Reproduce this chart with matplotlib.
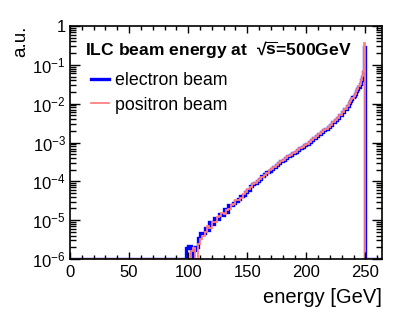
import numpy as np
import matplotlib
matplotlib.use("Agg")
import matplotlib.pyplot as plt
from matplotlib.ticker import FuncFormatter, MultipleLocator, LogLocator, NullFormatter

plt.rcParams['font.family'] = ['Liberation Sans', 'DejaVu Sans']
plt.rcParams['mathtext.fontset'] = 'custom'
plt.rcParams['mathtext.rm'] = 'Liberation Sans'
plt.rcParams['mathtext.it'] = 'Liberation Sans:italic'
plt.rcParams['mathtext.bf'] = 'Liberation Sans:bold'

# histogram binning (GeV): 2 GeV bins below 236 GeV, 1 GeV bins near the peak
coarse_edges = np.arange(0, 236, 2)
fine_edges = np.arange(236, 265, 1)
x_max = 264
first_filled_edge = 98

# bin contents starting at 98 GeV, 0 = empty bin
electron_beam = [
    1.9e-6, 2.1e-6, 0, 1.7e-6, 2.0e-6, 3.5e-6, 4.7e-6, 4.7e-6, 6.3e-6, 5.6e-6,
    8.9e-6, 7.9e-6, 1.12e-5, 1.05e-5, 1.41e-5, 1.32e-5, 1.9e-5, 1.66e-5, 2.4e-5, 2.4e-5,
    2.8e-5, 3.2e-5, 3.6e-5, 4.2e-5, 4.5e-5, 5.2e-5, 6.0e-5, 7.6e-5, 8.3e-5, 8.9e-5,
    1.05e-4, 1.17e-4, 1.35e-4, 1.51e-4, 1.70e-4, 1.86e-4, 2.14e-4, 2.34e-4, 2.63e-4, 2.95e-4,
    3.31e-4, 3.63e-4, 3.98e-4, 4.37e-4, 4.79e-4, 5.25e-4, 5.75e-4, 6.46e-4, 7.08e-4, 7.76e-4,
    8.51e-4, 9.33e-4, 1.02e-3, 1.15e-3, 1.29e-3, 1.45e-3, 1.62e-3, 1.82e-3, 2.04e-3, 2.29e-3,
    2.57e-3, 2.88e-3, 3.31e-3, 3.80e-3, 4.37e-3, 5.13e-3, 6.03e-3, 7.08e-3, 8.51e-3,
    1.07e-2, 1.17e-2, 1.32e-2, 1.45e-2, 1.62e-2, 1.82e-2, 2.09e-2, 2.40e-2, 2.75e-2, 3.24e-2,
    4.0e-2, 5.0e-2, 6.6e-2, 0.295,
]
positron_beam = [
    0, 0, 1.6e-6, 1.9e-6, 0, 2.5e-6, 3.2e-6, 4.0e-6, 5.0e-6, 7.1e-6,
    6.3e-6, 8.9e-6, 8.9e-6, 1.2e-5, 1.26e-5, 1.51e-5, 1.41e-5, 1.78e-5, 1.9e-5, 2.5e-5,
    2.6e-5, 3.3e-5, 3.4e-5, 3.8e-5, 4.7e-5, 5.4e-5, 6.3e-5, 7.1e-5, 8.3e-5, 9.3e-5,
    1.05e-4, 1.15e-4, 1.32e-4, 1.48e-4, 1.66e-4, 1.91e-4, 2.09e-4, 2.40e-4, 2.63e-4, 2.95e-4,
    3.31e-4, 3.63e-4, 3.98e-4, 4.37e-4, 4.79e-4, 5.25e-4, 5.75e-4, 6.31e-4, 7.08e-4, 7.76e-4,
    8.51e-4, 9.33e-4, 1.02e-3, 1.15e-3, 1.29e-3, 1.45e-3, 1.62e-3, 1.82e-3, 2.04e-3, 2.29e-3,
    2.57e-3, 2.88e-3, 3.31e-3, 3.80e-3, 4.37e-3, 5.13e-3, 6.03e-3, 7.08e-3, 8.51e-3,
    1.05e-2, 1.18e-2, 1.30e-2, 1.44e-2, 1.62e-2, 1.80e-2, 2.07e-2, 2.40e-2, 2.78e-2, 3.20e-2,
    4.1e-2, 5.1e-2, 6.8e-2, 0.355,
]

series_labels = ["electron beam", "positron beam"]
title_text = r"ILC beam energy at  √$\overline{\mathbf{s}}$=500GeV"
x_label = "energy [GeV]"
y_label = "a.u."
y_min, y_max = 1e-6, 1.0

edges = np.concatenate([coarse_edges, fine_edges])
nbins = len(edges) - 1
start = int(np.searchsorted(edges, first_filled_edge))


def fill(vals):
    h = np.zeros(nbins)
    h[start:start + len(vals)] = vals
    return np.where(h > 0, h, y_min)


h_e = fill(electron_beam)
h_p = fill(positron_beam)

fig = plt.figure(figsize=(4.15, 3.17), dpi=100)
ax = fig.add_axes([70/415, 58/317, 312/415, 233/317])

ax.stairs(h_e, edges, baseline=None, color='#0000ff', lw=2.4, label=series_labels[0])
ax.stairs(h_p, edges, baseline=None, color='#ff8080', lw=1.3, label=series_labels[1])

ax.set_yscale('log')
ax.set_xlim(0, x_max)
ax.set_ylim(y_min, y_max)

ax.xaxis.set_major_locator(MultipleLocator(50))
ax.xaxis.set_minor_locator(MultipleLocator(10))
ax.yaxis.set_major_locator(LogLocator(base=10, numticks=10))
ax.yaxis.set_minor_locator(LogLocator(base=10, subs=np.arange(2, 10), numticks=20))
ax.yaxis.set_minor_formatter(NullFormatter())


def yfmt(v, pos):
    e = int(round(np.log10(v)))
    if e == 0:
        return "1"
    return r"$10^{%d}$" % e


ax.yaxis.set_major_formatter(FuncFormatter(yfmt))
ax.tick_params(which='both', direction='in', top=True, right=True, labelsize=12, width=1.0)
ax.tick_params(axis='y', which='major', length=7, pad=3)
ax.tick_params(axis='y', which='minor', length=4)
ax.tick_params(axis='x', which='major', length=5, pad=4)
ax.tick_params(axis='x', which='minor', length=3)
for s in ax.spines.values():
    s.set_linewidth(1.2)

ax.set_xlabel(x_label, fontsize=14.5, loc='right', labelpad=6)
ax.set_ylabel(y_label, fontsize=13.5, loc='top', labelpad=2)

ax.text(85/415, 1 - 50/317, title_text, transform=fig.transFigure,
        fontsize=12.6, fontweight='bold', va='center', ha='left')

leg = ax.legend(loc='upper left', bbox_to_anchor=(79/415, 1 - 60/317),
                bbox_transform=fig.transFigure, frameon=False, fontsize=12.8,
                handlelength=1.0, handletextpad=0.3, labelspacing=0.4, borderpad=0.2)

fig.savefig("out.png", dpi=100)
